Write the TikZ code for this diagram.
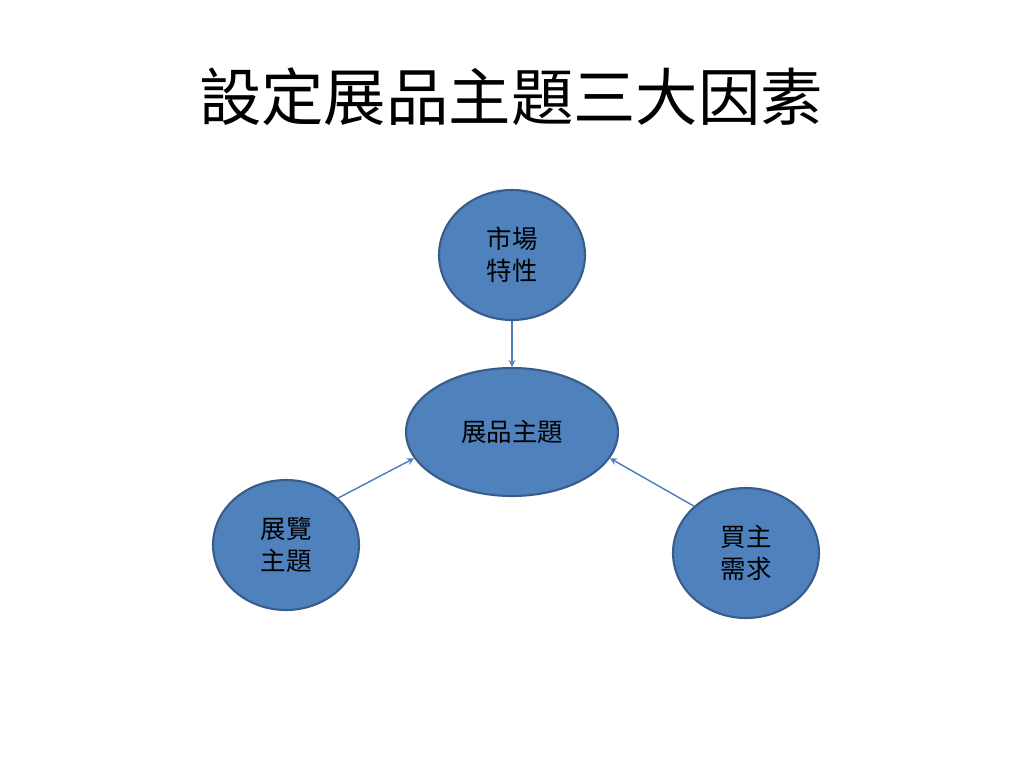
\documentclass[tikz,border=0pt]{standalone}
\usepackage{fontspec}
\setmainfont{Noto Sans CJK TC}
\usetikzlibrary{shapes.geometric}

\definecolor{bubblefill}{HTML}{4F81BD}
\definecolor{bubbleline}{HTML}{385D8A}
\definecolor{linkline}{HTML}{4A7EBB}

\tikzset{
	bubble/.style = {ellipse, draw = bubbleline, fill = bubblefill, line width = 1.2pt,
		inner sep = 0pt, align = center, font = \fontsize{14.5}{18}\selectfont},
	link/.style = {draw = linkline, line width = 0.8pt, -stealth}
}

\begin{document}
\begin{tikzpicture}[x = 0.02cm, y = -0.02cm]
			\useasboundingbox (0,0) rectangle (1024,768);

			\node [font = \fontsize{35.5}{40}\selectfont] (title) at (511,97) {設定展品主題三大因素};

			\begin{scope}
				\node [bubble, minimum width = 2.92cm, minimum height = 2.6cm] (market) at (512,255) {市場\\特性};
				\node [bubble, minimum width = 4.24cm, minimum height = 2.56cm] (theme) at (512,432) {展品主題};
				\node [bubble, minimum width = 2.92cm, minimum height = 2.6cm] (expo) at (286,545) {展覽\\主題};
				\node [bubble, minimum width = 2.92cm, minimum height = 2.6cm] (buyer) at (746,553) {買主\\需求};
			\end{scope}

			\begin{scope}[link]
				\draw (market) -- (theme);
				\draw (expo.42) -- (theme.195);
				\draw (buyer.138) -- (theme.345);
			\end{scope}
		\end{tikzpicture}
\end{document}
